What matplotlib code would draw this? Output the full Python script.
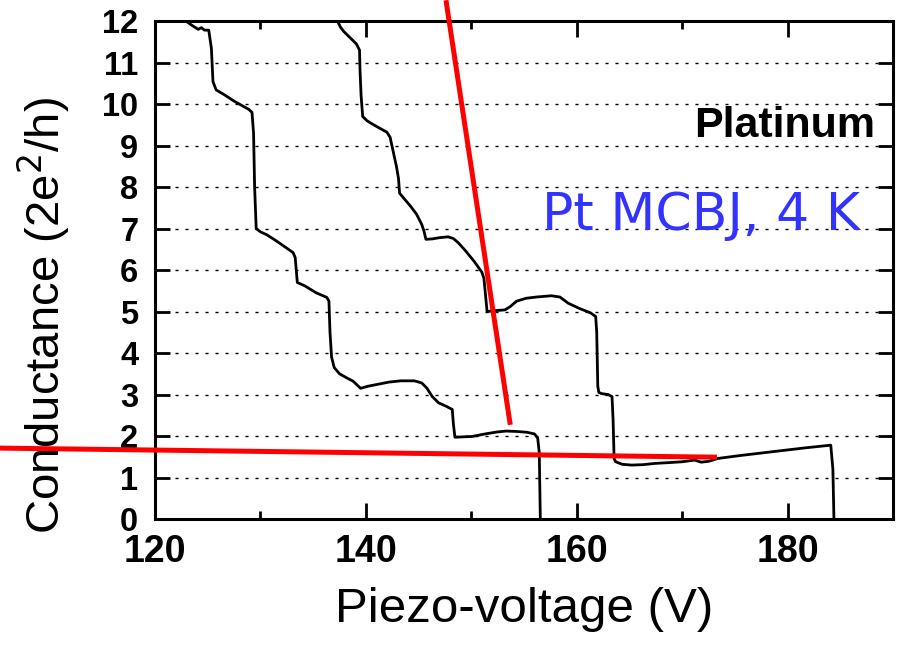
import matplotlib
matplotlib.use("Agg")
import matplotlib.pyplot as plt
from matplotlib.ticker import MultipleLocator

plt.rcParams['font.family'] = ['Liberation Sans', 'DejaVu Sans']

# ---- data ----
trace1_x = [123.15, 123.6, 124.1, 124.4, 124.7, 125.1, 125.35, 125.5, 125.8, 126.6, 127.5,
            128.2, 128.9, 129.2, 129.35, 129.45, 129.6, 130.0, 130.6, 131.4, 132.2, 133.1,
            133.3, 133.5, 134.2, 135.3, 136.3, 136.5, 136.6, 136.75, 137.0, 137.5, 138.2, 138.8,
            139.5, 140.2, 141.0, 142.2, 143.3, 144.6, 145.3, 145.8, 146.3, 146.9, 147.6, 148.2,
            148.3, 148.45, 149.2, 150.1, 151.3, 152.5, 153.3, 154.3, 155.3, 156.0, 156.3, 156.45,
            156.55]
trace1_y = [11.96, 11.88, 11.8, 11.84, 11.78, 11.78, 11.34, 10.54, 10.34, 10.22, 10.07,
            9.97, 9.87, 9.8, 9.3, 8.0, 7.0, 6.92, 6.85, 6.72, 6.58, 6.42,
            6.3, 5.7, 5.62, 5.45, 5.34, 5.25, 4.5, 3.9, 3.65, 3.5, 3.4, 3.32,
            3.15, 3.2, 3.24, 3.30, 3.33, 3.33, 3.28, 3.15, 2.95, 2.8, 2.72, 2.64,
            2.3, 1.97, 1.98, 1.99, 2.05, 2.1, 2.12, 2.11, 2.09, 2.05, 1.95, 1.6,
            0.0]

trace2_x = [137.3, 137.6, 137.9, 138.3, 138.7, 139.1, 139.4, 139.45, 139.55, 139.7, 140.1, 140.6,
            141.3, 142.0, 142.3, 142.6, 142.9, 143.1, 143.2, 143.7, 144.2, 144.8, 145.3, 145.5,
            145.7, 146.3, 147.0, 147.8, 148.3, 148.8, 149.5, 150.3, 151.0, 151.2, 151.35, 151.5,
            152.2, 153.2, 153.7, 154.3, 155.2, 156.2, 157.6, 158.4, 159.2, 160.2, 161.3, 161.8,
            161.9, 162.0, 162.1, 162.4, 163.0, 163.35, 163.45, 163.55, 163.7, 164.3, 165.2, 166.3,
            167.4, 168.8, 170.0, 170.6, 171.2, 171.8, 172.5, 173.4, 175.5, 177.5, 179.5,
            181.5, 184.1, 184.3, 184.4]
trace2_y = [12.0, 11.85, 11.75, 11.65, 11.55, 11.45, 11.3, 10.8, 10.2, 9.7, 9.6, 9.52,
            9.42, 9.32, 9.2, 8.85, 8.5, 8.2, 7.85, 7.7, 7.55, 7.35, 7.1, 6.95,
            6.74, 6.75, 6.78, 6.8, 6.76, 6.65, 6.45, 6.2, 5.95, 5.8, 5.4, 5.0,
            5.02, 5.04, 5.12, 5.25, 5.32, 5.35, 5.38, 5.35, 5.2, 5.08, 4.97, 4.88,
            4.5, 3.2, 3.05, 3.02, 3.0, 2.95, 2.4, 1.45, 1.38, 1.32, 1.3, 1.31,
            1.34, 1.36, 1.38, 1.40, 1.42, 1.37, 1.39, 1.46, 1.53, 1.59, 1.65,
            1.71, 1.78, 1.2, 0.0]

red_flat_x = [105.0, 173.3]
red_flat_y = [1.71, 1.49]
red_steep_x = [147.6, 153.7]
red_steep_y = [12.5, 2.27]

x_ticks = [120, 140, 160, 180]
y_ticks = list(range(0, 13))

# ---- figure ----
fig = plt.figure(figsize=(8.99, 6.45), dpi=100)
ax = fig.add_axes([0.1724, 0.1953, 0.8209, 0.7721])

ax.plot(trace1_x, trace1_y, color='black', lw=2.0, zorder=3)
ax.plot(trace2_x, trace2_y, color='black', lw=2.0, zorder=3)

ax.plot(red_flat_x, red_flat_y, color='#ff0000', lw=3.6, clip_on=False, zorder=6,
        solid_capstyle='butt')
ax.plot(red_steep_x, red_steep_y, color='#ff0000', lw=3.6, clip_on=False, zorder=6,
        solid_capstyle='butt')

ax.set_xlim(120, 190)
ax.set_ylim(0, 12)
ax.set_xticks(x_ticks)
ax.set_yticks(y_ticks)
ax.xaxis.set_minor_locator(MultipleLocator(10))

for s in ax.spines.values():
    s.set_linewidth(2.2)

ax.tick_params(axis='both', which='both', direction='in', top=True, right=True, width=2.0)
ax.tick_params(axis='x', which='major', length=11.5, pad=11, labelsize=27)
ax.tick_params(axis='x', which='minor', length=6)
ax.tick_params(axis='y', which='major', length=11, pad=12, labelsize=23.5)
for lab in ax.get_xticklabels() + ax.get_yticklabels():
    lab.set_fontweight('bold')

ax.yaxis.grid(True, color='black', lw=1.0, linestyle=(0, (2.2, 5)))
ax.set_axisbelow(True)

ax.set_xlabel('Piezo-voltage (V)', fontsize=35.5, labelpad=12)
ax.set_ylabel('Conductance (2e$^2$/h)', fontsize=34)
ax.yaxis.set_label_coords(-0.112, 0.408)

ax.text(0.9756, 0.767, 'Platinum', transform=ax.transAxes, ha='right', va='baseline',
        fontsize=31, fontweight='bold')
ax.text(0.955, 0.580, 'Pt MCBJ, 4 K', transform=ax.transAxes, ha='right', va='baseline',
        fontsize=37.5, color='#3333ff', family=['DejaVu Sans'])

fig.savefig('out.png', dpi=100)
